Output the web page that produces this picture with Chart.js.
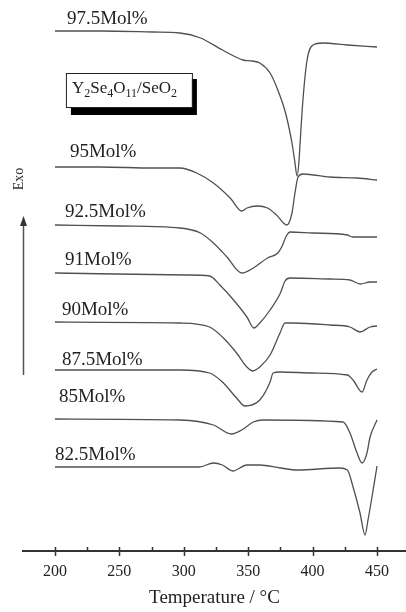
<!DOCTYPE html>
<html>
<head>
<meta charset="utf-8">
<script src="https://cdn.jsdelivr.net/npm/chart.js@4.4.1/dist/chart.umd.min.js"></script>
<style>
  html, body { margin: 0; padding: 0; background: #ffffff; }
  canvas { display: block; }
</style>
</head>
<body>
<canvas id="c" width="406" height="612"></canvas>
<script>
// ---- data (heat flow in arbitrary units, exo up) ----
const seriesNames = ['97.5Mol%', '95Mol%', '92.5Mol%', '91Mol%', '90Mol%', '87.5Mol%', '85Mol%', '82.5Mol%'];
const baselineOffsets = [520, 384, 326, 278, 229, 181, 132, 84];

const temps975 = [200, 235, 276, 297, 313, 330, 346, 353, 359, 367, 373, 379, 384, 386, 388, 389.5, 390.2, 392.5, 395.7, 400.3, 408, 427, 450];
const heat975  = [0, 0, -1, -2, -7, -19, -29, -30, -32, -42, -59, -82, -112, -129, -145, -129, -114, -69, -29, -14, -12, -14, -16];

const temps95 = [200, 235, 276, 297, 310, 323, 336, 345, 349, 357, 365, 372, 380, 384, 386.3, 388.7, 392.5, 413.5, 434.5, 450];
const heat95  = [0, 0, -1, -1, -6, -16, -31, -44, -41, -39, -41, -48, -58, -46, -26, -10, -7, -10, -11, -13];

const temps925 = [200, 250, 297, 313, 323, 333.5, 345, 354, 365, 373, 376, 380, 382.5, 400, 427, 431, 450];
const heat925  = [0, -1, -3, -8, -18, -32, -48, -43, -33, -28, -22, -10, -7, -8, -10, -12, -12];

const temps91 = [200, 302.5, 320, 328, 338, 349, 354.5, 359, 367, 375, 378.6, 382.5, 413.5, 429, 437, 444.6, 450];
const heat91  = [0, -2, -3, -12, -26, -44, -55, -50, -37, -20, -8, -5, -6, -7, -11, -9, -9];

const temps90 = [200, 297, 320, 330, 341, 349, 353.7, 359, 367, 374.7, 378.6, 384.8, 413.5, 429, 436.8, 444.6, 450];
const heat90  = [0, -1, -5, -15, -31, -45, -49, -45, -33, -11, -1, -1, -3, -5, -10, -5, -4];

const temps875 = [200, 297, 320, 330, 341, 347.5, 359, 367, 369.3, 374.7, 400, 427, 431.4, 438.4, 442.2, 446.1, 450];
const heat875  = [0, 0, -3, -12, -28, -36, -30, -12, -3, -2, -3, -5, -10, -22, -10, -2, 1];

const temps85 = [200, 297, 323, 337, 345, 354, 361.5, 423.6, 429, 434.5, 438.4, 442.2, 444.6, 450];
const heat85  = [0, -1, -6, -15, -11, -3, -1, -3, -14, -34, -44, -34, -18, -1];

const temps825 = [200, 297, 312, 323, 330, 338, 349, 359, 375, 388, 421, 427, 431.4, 436.8, 440.7, 443, 446.1, 450];
const heat825  = [0, 0, 0, 4, 2, -4, 2, 2, -1, -3, -1, -3, -20, -46, -68, -53, -30, 1];

const majorTicks = [200, 250, 300, 350, 400, 450];
const minorTicks = [225, 275, 325, 375, 425];
const xTitle = 'Temperature / \u00B0C';
const yTitle = 'Exo';

const allTemps = [temps975, temps95, temps925, temps91, temps90, temps875, temps85, temps825];
const allHeat  = [heat975, heat95, heat925, heat91, heat90, heat875, heat85, heat825];

// ---- layout (label anchors: temperature, offset from the curve baseline) ----
const labelAnchorT  = [209.3, 211.6, 207.8, 207.8, 205.4, 205.4, 203.1, 200];
const labelAnchorDy = [12, 15, 13, 13, 12, 10, 22, 12];

const datasets = allTemps.map((ts, i) => ({
  label: seriesNames[i],
  data: ts.map((t, k) => ({ x: t, y: baselineOffsets[i] + allHeat[i][k] })),
  borderColor: '#505050',
  borderWidth: 1.3,
  pointRadius: 0,
  fill: false,
  cubicInterpolationMode: 'monotone'
}));

const decor = {
  id: 'decor',
  beforeDraw(chart) {
    const ctx = chart.ctx;
    ctx.save();
    ctx.fillStyle = '#ffffff';
    ctx.fillRect(0, 0, chart.width, chart.height);
    ctx.restore();
  },
  afterDraw(chart) {
    const ctx = chart.ctx;
    const xs = chart.scales.x, ys = chart.scales.y;
    const area = chart.chartArea;
    ctx.save();
    // cross tick marks on the axis line
    ctx.strokeStyle = '#333';
    ctx.lineWidth = 1.5;
    majorTicks.forEach(v => {
      const p = Math.round(xs.getPixelForValue(v)) + 0.5;
      ctx.beginPath(); ctx.moveTo(p, area.bottom - 4); ctx.lineTo(p, area.bottom + 5); ctx.stroke();
    });
    minorTicks.forEach(v => {
      const p = Math.round(xs.getPixelForValue(v)) + 0.5;
      ctx.beginPath(); ctx.moveTo(p, area.bottom - 4); ctx.lineTo(p, area.bottom); ctx.stroke();
    });

    // series labels
    ctx.fillStyle = '#222';
    ctx.textBaseline = 'middle';
    ctx.textAlign = 'left';
    ctx.font = '19px "Liberation Serif", "Times New Roman", serif';
    seriesNames.forEach((name, i) => {
      const x = xs.getPixelForValue(labelAnchorT[i]);
      const y = ys.getPixelForValue(baselineOffsets[i] + labelAnchorDy[i]);
      ctx.fillText(name, x, y);
    });

    // compound box with shadow
    const bx = xs.getPixelForValue(208.5), by = ys.getPixelForValue(478);
    const bw = 126, bh = 34;
    ctx.fillStyle = '#000';
    ctx.fillRect(bx + 5, by + 6, bw, bh + 2);
    ctx.fillStyle = '#fff';
    ctx.fillRect(bx, by, bw, bh);
    ctx.strokeStyle = '#222';
    ctx.lineWidth = 1;
    ctx.strokeRect(bx + 0.5, by + 0.5, bw, bh);
    const parts = [['Y', 0], ['2', 1], ['Se', 0], ['4', 1], ['O', 0], ['11', 1], ['/SeO', 0], ['2', 1]];
    let tx = bx + 6;
    const ty = by + bh / 2 - 1;
    ctx.fillStyle = '#222';
    parts.forEach(([s, sub]) => {
      ctx.font = sub ? '12px "Liberation Serif", serif' : '17px "Liberation Serif", serif';
      ctx.fillText(s, tx, sub ? ty + 5 : ty);
      tx += ctx.measureText(s).width;
    });

    // Exo label and arrow
    ctx.save();
    ctx.translate(19, 179);
    ctx.rotate(-Math.PI / 2);
    ctx.textAlign = 'center';
    ctx.font = '14px "Liberation Serif", serif';
    ctx.fillStyle = '#333';
    ctx.fillText(yTitle, 0, 0);
    ctx.restore();

    const ax = area.left + 0.5;
    ctx.strokeStyle = '#555';
    ctx.lineWidth = 1.5;
    ctx.beginPath(); ctx.moveTo(ax, 375); ctx.lineTo(ax, 224); ctx.stroke();
    ctx.fillStyle = '#333';
    ctx.beginPath(); ctx.moveTo(ax, 216); ctx.lineTo(ax - 3.5, 226); ctx.lineTo(ax + 3.5, 226); ctx.closePath(); ctx.fill();
    ctx.restore();
  }
};

new Chart(document.getElementById('c'), {
  type: 'line',
  data: { datasets },
  options: {
    responsive: false,
    animation: false,
    devicePixelRatio: 1,
    layout: { padding: { left: 23, right: 0, top: 0, bottom: 0 } },
    plugins: { legend: { display: false }, tooltip: { enabled: false } },
    scales: {
      x: {
        type: 'linear',
        min: 175.2,
        max: 472.5,
        afterBuildTicks: s => { s.ticks = majorTicks.map(v => ({ value: v })); },
        afterFit: s => { s.height = 61; },
        grid: { display: false, drawTicks: false },
        border: { display: true, color: '#333', width: 2 },
        ticks: {
          padding: 11,
          color: '#222',
          font: { family: '"Liberation Serif", serif', size: 16 },
          maxRotation: 0
        },
        title: {
          display: true,
          text: xTitle,
          color: '#222',
          font: { family: '"Liberation Serif", serif', size: 19 },
          padding: { top: 0, bottom: 3 }
        }
      },
      y: {
        type: 'linear',
        display: false,
        min: 0,
        max: 551
      }
    }
  },
  plugins: [decor]
});
</script>
</body>
</html>
